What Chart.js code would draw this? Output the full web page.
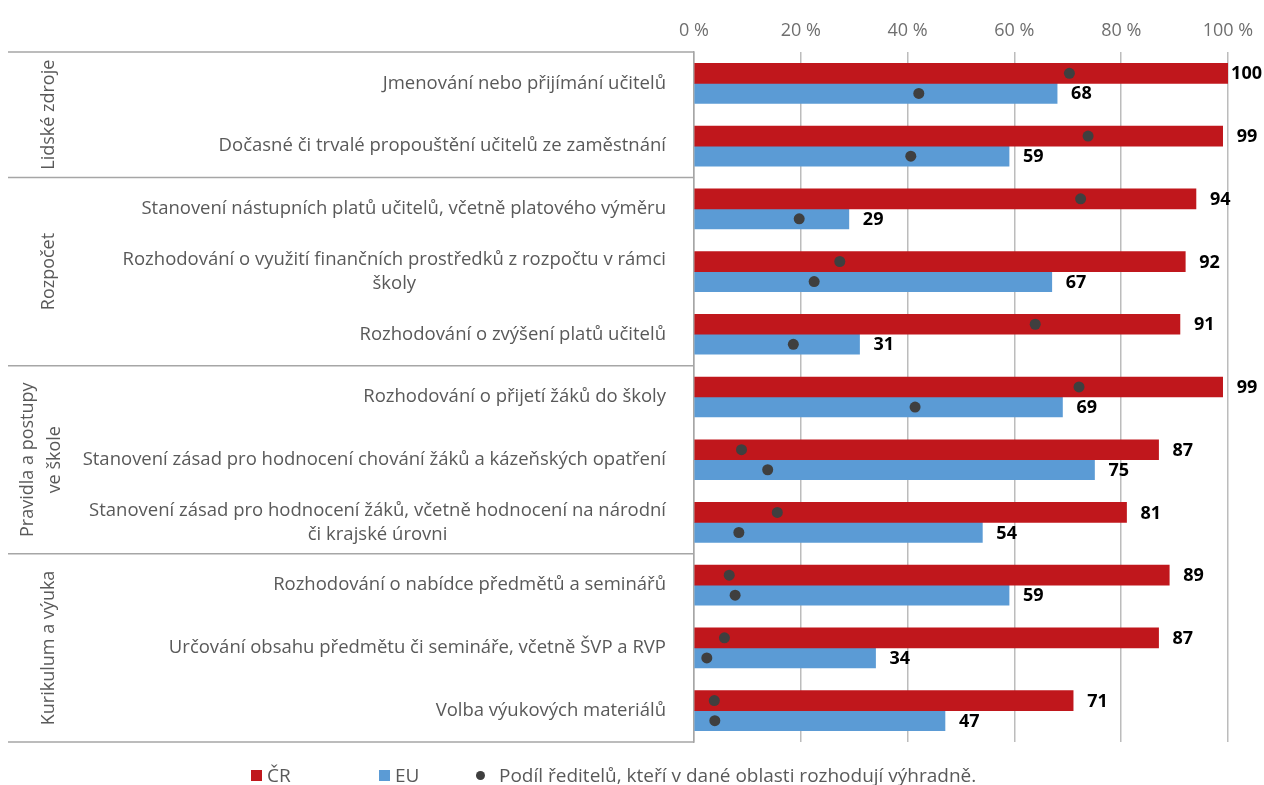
<!DOCTYPE html>
<html lang="cs">
<head>
<meta charset="utf-8">
<script src="https://cdn.jsdelivr.net/npm/chart.js@4/dist/chart.umd.min.js"></script>
<style>
  html, body { margin: 0; padding: 0; background: #fff; }
  #wrap { position: relative; width: 1264px; height: 785px; }
  #legend { position: absolute; left: 251px; top: 762px; display: flex; align-items: center;
            font: 19px "Open Sans", sans-serif; color: #595959; }
  #legend .item { display: flex; align-items: center; white-space: nowrap; }
  #legend .box { width: 11px; height: 11px; margin-right: 5px; }
  #legend .dot { width: 9px; height: 9px; border-radius: 50%; margin-right: 14px; }
</style>
</head>
<body>
<div id="wrap">
  <canvas id="chart" width="1264" height="785"></canvas>
  <div id="legend"></div>
</div>
<script>
// categories, one array of lines per row (top to bottom)
const categories = [
  ['Jmenování nebo přijímání učitelů'],
  ['Dočasné či trvalé propouštění učitelů ze zaměstnání'],
  ['Stanovení nástupních platů učitelů, včetně platového výměru'],
  ['Rozhodování o využití finančních prostředků z rozpočtu v rámci', 'školy'],
  ['Rozhodování o zvýšení platů učitelů'],
  ['Rozhodování o přijetí žáků do školy'],
  ['Stanovení zásad pro hodnocení chování žáků a kázeňských opatření'],
  ['Stanovení zásad pro hodnocení žáků, včetně hodnocení na národní', 'či krajské úrovni'],
  ['Rozhodování o nabídce předmětů a seminářů'],
  ['Určování obsahu předmětu či semináře, včetně ŠVP a RVP'],
  ['Volba výukových materiálů']
];
const groupNames = [['Lidské zdroje'], ['Rozpočet'], ['Pravidla a postupy', 've škole'], ['Kurikulum a výuka']];
const groupSizes = [2, 3, 3, 3];

const seriesNames = ['ČR', 'EU', 'Podíl ředitelů, kteří v dané oblasti rozhodují výhradně.'];
const crValues = [100, 99, 94, 92, 91, 99, 87, 81, 89, 87, 71];
const euValues = [68, 59, 29, 67, 31, 69, 75, 54, 59, 34, 47];
// share of principals deciding exclusively (dots)
const crExclusive = [70.3, 73.8, 72.4, 27.3, 63.9, 72.1, 8.9, 15.6, 6.6, 5.7, 3.8];
const euExclusive = [42.1, 40.6, 19.7, 22.5, 18.6, 41.4, 13.8, 8.4, 7.7, 2.4, 3.9];

const xTickLabels = ['0 %', '20 %', '40 %', '60 %', '80 %', '100 %'];

const RED = '#C0171C';
const BLUE = '#5B9BD5';
const DOT = '#3f3f3f';
const BAR_PX = 20;
const CAT_PCT = 0.64;
const dotOffset = CAT_PCT / 4; // centre of each of the two bars, in category units

const FONT = '"Open Sans", sans-serif';
const LINE = '#a6a6a6';

// text left of the plot: category labels + group labels with separator lines
const leftLabels = {
  id: 'leftLabels',
  afterDraw(chart) {
    const { ctx, chartArea } = chart;
    const y = chart.scales.y;
    const step = y.getPixelForValue(1) - y.getPixelForValue(0);
    ctx.save();
    ctx.fillStyle = '#595959';
    ctx.font = '18.5px ' + FONT;
    ctx.textBaseline = 'middle';
    ctx.textAlign = 'center';
    const right = chartArea.left - 28;
    categories.forEach((lines, i) => {
      const cy = y.getPixelForValue(i);
      const w = Math.max(...lines.map(l => ctx.measureText(l).width));
      const cx = right - w / 2;
      lines.forEach((l, j) => {
        ctx.fillText(l, cx, cy + (j - (lines.length - 1) / 2) * 24);
      });
    });

    // group separators and rotated group names
    ctx.strokeStyle = LINE;
    ctx.lineWidth = 1.5;
    let start = 0;
    const drawSep = (py) => {
      ctx.beginPath();
      ctx.moveTo(8, py);
      ctx.lineTo(chartArea.left, py);
      ctx.stroke();
    };
    drawSep(y.getPixelForValue(0) - step / 2);
    ctx.font = '18px ' + FONT;
    groupNames.forEach((lines, g) => {
      const end = start + groupSizes[g] - 1;
      const top = y.getPixelForValue(start) - step / 2;
      const bottom = y.getPixelForValue(end) + step / 2;
      drawSep(bottom);
      ctx.save();
      ctx.translate(lines.length > 1 ? 41 : 49, (top + bottom) / 2);
      ctx.rotate(-Math.PI / 2);
      lines.forEach((l, j) => {
        ctx.fillText(l, 0, (j - (lines.length - 1) / 2) * 27);
      });
      ctx.restore();
      start = end + 1;
    });
    ctx.restore();
  }
};

// value labels at the end of each bar
const barValues = {
  id: 'barValues',
  afterDatasetsDraw(chart) {
    const { ctx } = chart;
    ctx.save();
    ctx.font = 'bold 18px ' + FONT;
    ctx.fillStyle = '#000';
    ctx.textBaseline = 'middle';
    ctx.textAlign = 'left';
    chart.data.datasets.forEach((ds, di) => {
      if (ds.type === 'scatter') return;
      chart.getDatasetMeta(di).data.forEach((bar, i) => {
        const txt = String(ds.data[i]);
        const w = ctx.measureText(txt).width;
        const x = Math.min(bar.x + 14, chart.width - w - 2);
        ctx.fillText(txt, x, bar.y + 1);
      });
    });
    ctx.restore();
  }
};

const dots = crExclusive.map((v, i) => ({ x: v, y: i - dotOffset }))
  .concat(euExclusive.map((v, i) => ({ x: v, y: i + dotOffset })));

const chart = new Chart(document.getElementById('chart'), {
  type: 'bar',
  data: {
    labels: categories.map(c => c.join(' ')),
    datasets: [
      { type: 'scatter', label: seriesNames[2], data: dots, xAxisID: 'x', yAxisID: 'y2',
        backgroundColor: DOT, borderWidth: 0, pointRadius: 5.5, order: -1 },
      { label: seriesNames[0], data: crValues, backgroundColor: RED, yAxisID: 'y',
        barThickness: BAR_PX },
      { label: seriesNames[1], data: euValues, backgroundColor: BLUE, yAxisID: 'y',
        barThickness: BAR_PX }
    ]
  },
  options: {
    indexAxis: 'y',
    responsive: false,
    animation: false,
    layout: { padding: { left: 8, right: 36, top: 0, bottom: 43 } },
    scales: {
      x: {
        position: 'top', min: 0, max: 100,
        ticks: { stepSize: 20, padding: 10, color: '#6f6f6f', font: { size: 18, family: FONT },
                 callback: (v, i) => xTickLabels[i] },
        grid: { color: '#bcbcbc', lineWidth: 1.5, drawTicks: false },
        border: { display: false },
        afterFit: s => { s.height = 52; }
      },
      y: {
        ticks: { display: false },
        grid: { display: false },
        border: { color: LINE, width: 1.5 },
        afterFit: s => { s.width = 686; }
      },
      y2: { type: 'linear', display: false, offset: false, grid: { offset: false },
            min: -0.5, max: 10.5, reverse: true }
    },
    plugins: { legend: { display: false }, tooltip: { enabled: false } }
  },
  plugins: [leftLabels, barValues]
});

// legend below the chart
const legendEl = document.getElementById('legend');
const legendWidths = [128, 97, null];
[1, 2, 0].forEach((di, k) => {
  const ds = chart.data.datasets[di];
  const item = document.createElement('div');
  item.className = 'item';
  if (legendWidths[k]) item.style.width = legendWidths[k] + 'px';
  const mark = document.createElement('span');
  mark.className = ds.type === 'scatter' ? 'dot' : 'box';
  mark.style.background = ds.backgroundColor;
  const txt = document.createElement('span');
  txt.textContent = ds.label;
  item.appendChild(mark);
  item.appendChild(txt);
  legendEl.appendChild(item);
});
</script>
</body>
</html>
